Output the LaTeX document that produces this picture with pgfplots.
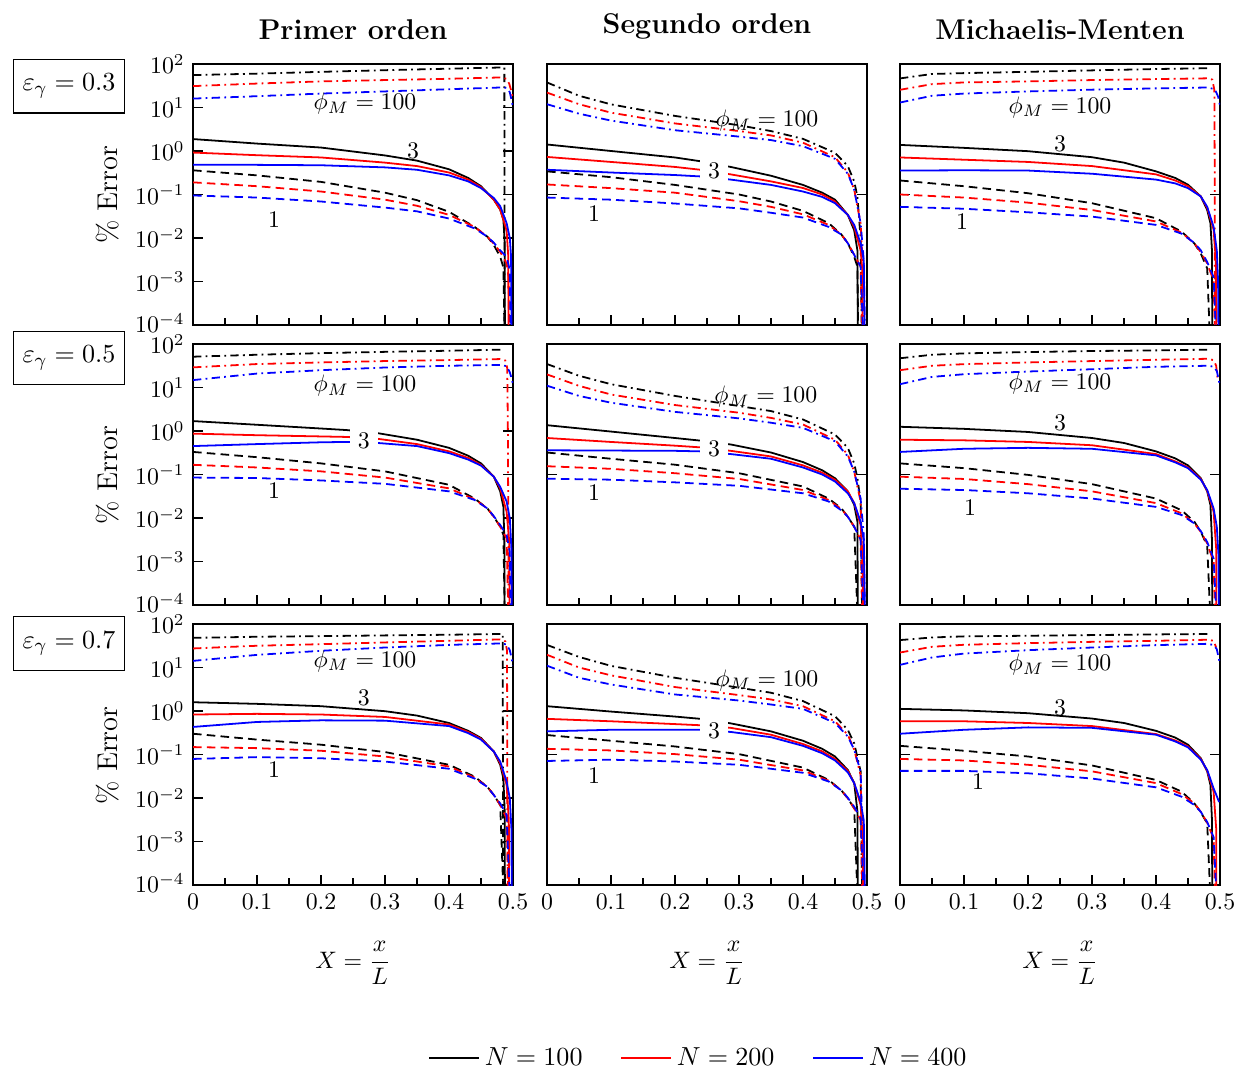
\documentclass[border=0pt]{standalone}
\usepackage{pgfplots}
\pgfplotsset{compat=1.18}
\pgfplotsset{
  /pgfplots/mypanel/.style={
    scale only axis, width=134.4pt, height=109.62pt,
    xmin=0, xmax=0.5, ymin=1e-4, ymax=1e2,
    axis line style={line width=0.8pt},
    tick align=inside, tick style={black, line width=0.5pt},
    major tick length=4pt, minor tick length=3pt,
    xtick={0,0.1,0.2,0.3,0.4,0.5},
    minor xtick={0.05,0.15,0.25,0.35,0.45},
    xtick pos=bottom, yminorticks=false,
    xticklabels={},
    yticklabel style={inner ysep=0.3pt},
    every axis plot/.append style={line width=0.75pt},
  },
  /pgfplots/myylab/.style={ytick={1e-4,1e-3,1e-2,1e-1,1,10,100},
    yticklabels={\raisebox{1.6pt}{$10^{-4}$},$10^{-3}$,$10^{-2}$,$10^{-1}$,$10^{0}$,$10^{1}$,\raisebox{-1.6pt}{$10^{2}$}}},
  /pgfplots/mynoylab/.style={ytick={1e-4,1e-1,1e2}, yticklabels={}},
  /pgfplots/myxlab/.style={xticklabels={0,0.1,0.2,0.3,0.4,0.5}},
}
\tikzset{
  dd/.style={dash pattern=on 3.5pt off 1.8pt on 0.75pt off 1.8pt},
  dsh/.style={dash pattern=on 3.6pt off 2.2pt},
  kDD/.style={black, dd},
  rDD/.style={red, dd},
  bDD/.style={blue, dd},
  kS/.style={black, solid},
  rS/.style={red, solid},
  bS/.style={blue, solid},
  kD/.style={black, dsh},
  rD/.style={red, dsh},
  bD/.style={blue, dsh},
  ebox/.style={draw, line width=0.5pt, minimum width=46.6pt, minimum height=22.5pt, inner sep=2pt, font=\fontsize{11}{13}\selectfont},
}
\begin{document}
\begin{tikzpicture}
% ---------------- Row 1 ----------------
\begin{semilogyaxis}[mypanel, myylab, at={(81.06pt,312.9pt)}, anchor=south west]
\addplot[kDD] coordinates {(0,55.6)(0.1,60)(0.2,66)(0.3,72)(0.4,78)(0.48,83)(0.4865,83)(0.4868,1e-5)};
\addplot[rDD] coordinates {(0,31)(0.1,35.5)(0.2,39.8)(0.3,42.7)(0.4,45.7)(0.48,49)(0.49,45.7)(0.494,35.5)(0.497,25)(0.5,16)};
\addplot[bDD] coordinates {(0,16)(0.1,18.2)(0.2,20.9)(0.3,23.4)(0.4,26.3)(0.48,28.8)(0.49,28.2)(0.495,22.4)(0.498,14.1)(0.5,10)};
\addplot[kS] coordinates {(0,1.88)(0.1,1.48)(0.2,1.2)(0.3,0.79)(0.35,0.6)(0.4,0.38)(0.43,0.24)(0.45,0.155)(0.47,0.076)(0.48,0.045)(0.485,0.026)(0.487,0.008)(0.4875,1e-5)};
\addplot[rS] coordinates {(0,0.92)(0.1,0.8)(0.2,0.71)(0.3,0.54)(0.35,0.45)(0.4,0.32)(0.43,0.22)(0.45,0.148)(0.47,0.076)(0.48,0.045)(0.49,0.015)(0.4925,0.004)(0.4935,1e-5)};
\addplot[bS] coordinates {(0,0.48)(0.1,0.48)(0.2,0.47)(0.3,0.42)(0.35,0.37)(0.4,0.275)(0.43,0.2)(0.45,0.14)(0.47,0.083)(0.48,0.054)(0.49,0.022)(0.495,0.01)(0.497,0.0037)(0.498,1e-5)};
\addplot[kD] coordinates {(0,0.36)(0.1,0.275)(0.2,0.195)(0.3,0.11)(0.35,0.074)(0.4,0.04)(0.44,0.018)(0.46,0.0107)(0.47,0.0069)(0.48,0.0037)(0.485,0.0021)(0.4875,1e-5)};
\addplot[rD] coordinates {(0,0.19)(0.1,0.155)(0.2,0.117)(0.3,0.076)(0.35,0.055)(0.4,0.034)(0.44,0.018)(0.46,0.0107)(0.47,0.0074)(0.48,0.0048)(0.49,0.0026)(0.493,0.00126)(0.4945,1e-5)};
\addplot[bD] coordinates {(0,0.095)(0.1,0.085)(0.2,0.069)(0.3,0.05)(0.35,0.041)(0.4,0.028)(0.44,0.0166)(0.46,0.0107)(0.47,0.0078)(0.48,0.0052)(0.49,0.0037)(0.495,0.0018)(0.497,1e-5)};
\node at (rel axis cs:0.5375,0.8467) {$\phi_M = 100$};
\node at (rel axis cs:0.6875,0.6667) {3};
\node at (rel axis cs:0.253,0.402) {1};
\end{semilogyaxis}

\begin{semilogyaxis}[mypanel, mynoylab, at={(229.74pt,312.9pt)}, anchor=south west]
\addplot[kDD] coordinates {(0,37.6)(0.05,18.6)(0.1,11.8)(0.2,6.4)(0.3,3.9)(0.35,2.87)(0.4,1.9)(0.45,0.91)(0.47,0.45)(0.48,0.2)(0.485,0.089)(0.49,0.01)(0.4925,1e-5)};
\addplot[rDD] coordinates {(0,22)(0.05,11.9)(0.1,7.6)(0.2,4.3)(0.3,2.87)(0.35,2.28)(0.4,1.55)(0.45,0.72)(0.47,0.32)(0.48,0.13)(0.49,0.022)(0.493,0.003)(0.4955,1e-5)};
\addplot[bDD] coordinates {(0,11.9)(0.05,7.2)(0.1,5.0)(0.2,3.0)(0.3,2.14)(0.35,1.78)(0.4,1.29)(0.45,0.66)(0.47,0.3)(0.48,0.13)(0.49,0.022)(0.495,0.003)(0.4975,1e-5)};
\addplot[kS] coordinates {(0,1.41)(0.1,1.0)(0.2,0.71)(0.24,0.58)(0.287,0.43)(0.35,0.27)(0.4,0.166)(0.43,0.11)(0.45,0.076)(0.47,0.034)(0.48,0.015)(0.485,0.0052)(0.486,1e-5)};
\addplot[rS] coordinates {(0,0.73)(0.1,0.56)(0.2,0.43)(0.24,0.37)(0.287,0.29)(0.35,0.2)(0.4,0.141)(0.43,0.1)(0.45,0.069)(0.47,0.034)(0.48,0.018)(0.49,0.0052)(0.4925,0.002)(0.4935,1e-5)};
\addplot[bS] coordinates {(0,0.37)(0.1,0.32)(0.2,0.28)(0.24,0.26)(0.287,0.22)(0.35,0.166)(0.4,0.117)(0.43,0.088)(0.45,0.063)(0.47,0.034)(0.48,0.02)(0.49,0.0076)(0.495,0.003)(0.497,1e-5)};
\addplot[kD] coordinates {(0,0.34)(0.1,0.25)(0.2,0.166)(0.3,0.1)(0.35,0.069)(0.4,0.042)(0.44,0.022)(0.46,0.012)(0.47,0.0076)(0.48,0.0037)(0.485,0.0022)(0.487,1e-5)};
\addplot[rD] coordinates {(0,0.17)(0.1,0.14)(0.2,0.11)(0.3,0.07)(0.35,0.052)(0.4,0.035)(0.44,0.02)(0.46,0.012)(0.47,0.0076)(0.48,0.0041)(0.49,0.0022)(0.4935,1e-5)};
\addplot[bD] coordinates {(0,0.085)(0.1,0.076)(0.2,0.062)(0.3,0.048)(0.35,0.038)(0.4,0.0295)(0.44,0.018)(0.46,0.012)(0.47,0.0076)(0.48,0.0041)(0.49,0.0022)(0.496,1e-5)};
\node at (rel axis cs:0.6875,0.7816) {$\phi_M = 100$};
\node[fill=white] at (rel axis cs:0.522,0.59) {3};
\node at (rel axis cs:0.147,0.425) {1};
\end{semilogyaxis}

\begin{semilogyaxis}[mypanel, mynoylab, at={(378pt,312.9pt)}, anchor=south west]
\addplot[kDD] coordinates {(0,46.6)(0.05,58.9)(0.1,61.7)(0.2,66)(0.3,71.3)(0.4,76.6)(0.483,80)};
\addplot[rDD] coordinates {(0,25.5)(0.05,34.4)(0.1,37.7)(0.2,39.8)(0.3,42.7)(0.4,45)(0.48,46.8)(0.488,43.7)(0.4912,25)(0.4916,1)(0.492,1e-5)};
\addplot[bDD] coordinates {(0,13)(0.05,18.6)(0.1,20.9)(0.2,23.4)(0.3,25.7)(0.4,27.5)(0.48,28.8)(0.492,26.3)(0.497,17.8)(0.5,11.2)};
\addplot[kS] coordinates {(0,1.38)(0.1,1.18)(0.2,0.99)(0.3,0.72)(0.35,0.54)(0.4,0.34)(0.43,0.24)(0.45,0.168)(0.47,0.09)(0.48,0.044)(0.485,0.022)(0.4875,0.005)(0.488,1e-5)};
\addplot[rS] coordinates {(0,0.71)(0.1,0.63)(0.2,0.56)(0.3,0.45)(0.4,0.29)(0.43,0.21)(0.45,0.155)(0.47,0.09)(0.48,0.049)(0.49,0.0155)(0.4935,0.003)(0.4945,1e-5)};
\addplot[bS] coordinates {(0,0.355)(0.1,0.36)(0.2,0.355)(0.3,0.3)(0.4,0.22)(0.43,0.18)(0.45,0.14)(0.47,0.09)(0.48,0.052)(0.49,0.018)(0.495,0.0052)(0.497,0.001)(0.498,1e-5)};
\addplot[kD] coordinates {(0,0.21)(0.1,0.155)(0.2,0.107)(0.3,0.063)(0.4,0.0285)(0.44,0.014)(0.46,0.0075)(0.47,0.0044)(0.48,0.002)(0.486,1e-5)};
\addplot[rD] coordinates {(0,0.1)(0.1,0.085)(0.2,0.065)(0.3,0.044)(0.4,0.024)(0.44,0.0133)(0.46,0.0075)(0.47,0.0047)(0.48,0.0026)(0.49,0.00105)(0.4935,1e-5)};
\addplot[bD] coordinates {(0,0.052)(0.1,0.047)(0.2,0.039)(0.3,0.031)(0.4,0.02)(0.44,0.0126)(0.46,0.0077)(0.47,0.0052)(0.48,0.0028)(0.49,0.00126)(0.496,1e-5)};
\node at (rel axis cs:0.5,0.835) {$\phi_M = 100$};
\node at (rel axis cs:0.5,0.6935) {3};
\node at (rel axis cs:0.194,0.398) {1};
\end{semilogyaxis}

% ---------------- Row 2 ----------------
\begin{semilogyaxis}[mypanel, myylab, at={(81.06pt,195.3pt)}, anchor=south west]
\addplot[kDD] coordinates {(0,51)(0.1,56.6)(0.2,61.7)(0.3,66)(0.4,70)(0.48,74)(0.484,74)};
\addplot[rDD] coordinates {(0,29)(0.1,34.6)(0.2,37.7)(0.3,40.5)(0.4,42.7)(0.48,45)(0.488,41.7)(0.491,28)(0.492,1)(0.4935,1e-5)};
\addplot[bDD] coordinates {(0,14.8)(0.1,20.9)(0.2,25)(0.3,28.8)(0.4,31.6)(0.48,33)(0.49,31)(0.495,22.4)(0.498,15.8)(0.5,11.7)};
\addplot[kS] coordinates {(0,1.69)(0.1,1.39)(0.2,1.14)(0.24,1.05)(0.289,0.89)(0.35,0.63)(0.4,0.41)(0.43,0.27)(0.45,0.18)(0.47,0.089)(0.48,0.041)(0.485,0.018)(0.4865,0.003)(0.487,1e-5)};
\addplot[rS] coordinates {(0,0.87)(0.1,0.8)(0.2,0.75)(0.24,0.73)(0.289,0.66)(0.35,0.5)(0.4,0.34)(0.43,0.24)(0.45,0.166)(0.47,0.089)(0.48,0.048)(0.49,0.014)(0.494,0.003)(0.495,1e-5)};
\addplot[bS] coordinates {(0,0.45)(0.1,0.5)(0.2,0.55)(0.24,0.56)(0.289,0.53)(0.35,0.45)(0.4,0.31)(0.43,0.22)(0.45,0.16)(0.47,0.089)(0.48,0.052)(0.49,0.024)(0.495,0.0098)(0.4975,0.002)(0.4985,1e-5)};
\addplot[kD] coordinates {(0,0.33)(0.1,0.25)(0.2,0.18)(0.3,0.118)(0.4,0.058)(0.44,0.028)(0.46,0.0166)(0.47,0.0107)(0.48,0.0063)(0.485,0.0041)(0.488,1e-5)};
\addplot[rD] coordinates {(0,0.167)(0.1,0.145)(0.2,0.118)(0.3,0.085)(0.4,0.048)(0.44,0.027)(0.46,0.0166)(0.47,0.0107)(0.48,0.0063)(0.49,0.0034)(0.494,1e-5)};
\addplot[bD] coordinates {(0,0.085)(0.1,0.083)(0.2,0.073)(0.3,0.061)(0.4,0.041)(0.44,0.026)(0.46,0.0166)(0.47,0.011)(0.48,0.0069)(0.49,0.0041)(0.495,0.00166)(0.497,1e-5)};
\node at (rel axis cs:0.5375,0.839) {$\phi_M = 100$};
\node[fill=white] at (rel axis cs:0.534,0.628) {3};
\node at (rel axis cs:0.253,0.44) {1};
\end{semilogyaxis}

\begin{semilogyaxis}[mypanel, mynoylab, at={(229.74pt,195.3pt)}, anchor=south west]
\addplot[kDD] coordinates {(0,34.6)(0.05,18.6)(0.1,11.9)(0.2,6.4)(0.3,3.75)(0.35,2.87)(0.4,1.84)(0.45,0.83)(0.47,0.41)(0.48,0.18)(0.485,0.083)(0.49,0.024)(0.493,1e-5)};
\addplot[rDD] coordinates {(0,20)(0.05,10.9)(0.1,6.9)(0.2,3.95)(0.3,2.63)(0.35,2.0)(0.4,1.41)(0.45,0.63)(0.47,0.285)(0.48,0.117)(0.49,0.024)(0.4955,1e-5)};
\addplot[bDD] coordinates {(0,11)(0.05,6.4)(0.1,4.47)(0.2,2.75)(0.3,1.95)(0.35,1.55)(0.4,1.18)(0.45,0.58)(0.47,0.26)(0.48,0.117)(0.49,0.028)(0.495,0.004)(0.4975,1e-5)};
\addplot[kS] coordinates {(0,1.36)(0.1,0.97)(0.2,0.69)(0.24,0.6)(0.287,0.49)(0.35,0.32)(0.4,0.193)(0.43,0.125)(0.45,0.082)(0.47,0.041)(0.48,0.02)(0.485,0.0082)(0.486,1e-5)};
\addplot[rS] coordinates {(0,0.69)(0.1,0.56)(0.2,0.46)(0.24,0.42)(0.287,0.35)(0.35,0.26)(0.4,0.162)(0.43,0.11)(0.45,0.076)(0.47,0.041)(0.48,0.022)(0.49,0.0069)(0.4935,0.001)(0.494,1e-5)};
\addplot[bS] coordinates {(0,0.36)(0.1,0.355)(0.2,0.35)(0.24,0.34)(0.287,0.295)(0.35,0.23)(0.4,0.145)(0.43,0.1)(0.45,0.069)(0.47,0.037)(0.48,0.022)(0.49,0.0082)(0.495,0.003)(0.4975,1e-5)};
\addplot[kD] coordinates {(0,0.32)(0.1,0.23)(0.2,0.168)(0.3,0.107)(0.4,0.053)(0.44,0.028)(0.46,0.0166)(0.47,0.0107)(0.48,0.0063)(0.487,1e-5)};
\addplot[rD] coordinates {(0,0.155)(0.1,0.135)(0.2,0.107)(0.3,0.079)(0.4,0.044)(0.44,0.026)(0.46,0.016)(0.47,0.0107)(0.48,0.0063)(0.49,0.0032)(0.494,1e-5)};
\addplot[bD] coordinates {(0,0.08)(0.1,0.076)(0.2,0.066)(0.3,0.055)(0.4,0.037)(0.44,0.024)(0.46,0.015)(0.47,0.0107)(0.48,0.0063)(0.49,0.0032)(0.497,1e-5)};
\node at (rel axis cs:0.684,0.797) {$\phi_M = 100$};
\node[fill=white] at (rel axis cs:0.522,0.598) {3};
\node at (rel axis cs:0.147,0.429) {1};
\end{semilogyaxis}

\begin{semilogyaxis}[mypanel, mynoylab, at={(378pt,195.3pt)}, anchor=south west]
\addplot[kDD] coordinates {(0,47)(0.05,56.6)(0.1,60.8)(0.2,65.3)(0.3,68.9)(0.4,71.3)(0.48,74)(0.484,74)};
\addplot[rDD] coordinates {(0,25)(0.05,31.6)(0.1,34.4)(0.2,37.7)(0.3,40.5)(0.4,43.4)(0.48,45.7)(0.49,42.7)(0.494,31.6)(0.4965,15)};
\addplot[bDD] coordinates {(0,11.9)(0.05,17.5)(0.1,20.2)(0.2,23.3)(0.3,26.3)(0.4,29.9)(0.48,31.6)(0.49,30.2)(0.495,24)(0.5,10.9)};
\addplot[kS] coordinates {(0,1.25)(0.1,1.12)(0.2,0.95)(0.3,0.69)(0.35,0.53)(0.4,0.34)(0.43,0.235)(0.45,0.162)(0.47,0.082)(0.48,0.041)(0.485,0.02)(0.4875,0.003)(0.488,1e-5)};
\addplot[rS] coordinates {(0,0.63)(0.1,0.61)(0.2,0.56)(0.3,0.47)(0.4,0.295)(0.43,0.2)(0.45,0.146)(0.47,0.079)(0.48,0.042)(0.49,0.014)(0.494,0.002)(0.4945,1e-5)};
\addplot[bS] coordinates {(0,0.33)(0.1,0.39)(0.2,0.41)(0.3,0.39)(0.4,0.275)(0.43,0.19)(0.45,0.14)(0.47,0.076)(0.48,0.044)(0.49,0.0166)(0.495,0.0063)(0.4975,0.0015)(0.4985,1e-5)};
\addplot[kD] coordinates {(0,0.18)(0.1,0.14)(0.2,0.098)(0.3,0.06)(0.4,0.028)(0.44,0.015)(0.46,0.0082)(0.47,0.0048)(0.48,0.0023)(0.487,1e-5)};
\addplot[rD] coordinates {(0,0.089)(0.1,0.079)(0.2,0.06)(0.3,0.041)(0.4,0.022)(0.44,0.0128)(0.46,0.0075)(0.47,0.0048)(0.48,0.0026)(0.49,0.00098)(0.4935,1e-5)};
\addplot[bD] coordinates {(0,0.047)(0.1,0.044)(0.2,0.037)(0.3,0.028)(0.4,0.018)(0.44,0.0117)(0.46,0.0075)(0.47,0.005)(0.48,0.0028)(0.49,0.00117)(0.497,1e-5)};
\node at (rel axis cs:0.5,0.85) {$\phi_M = 100$};
\node at (rel axis cs:0.5,0.697) {3};
\node at (rel axis cs:0.219,0.375) {1};
\end{semilogyaxis}

% ---------------- Row 3 ----------------
\begin{semilogyaxis}[mypanel, myylab, myxlab, at={(81.06pt,77.7pt)}, anchor=south west]
\addplot[kDD] coordinates {(0,48)(0.1,50.9)(0.2,52.6)(0.3,54.7)(0.4,56.6)(0.48,58.9)(0.484,58.9)(0.4845,1e-5)};
\addplot[rDD] coordinates {(0,27.4)(0.1,31.6)(0.2,34.4)(0.3,37.7)(0.4,41.1)(0.48,44.2)(0.488,40)(0.4905,25)(0.491,1)(0.4915,1e-5)};
\addplot[bDD] coordinates {(0,14.2)(0.1,19.5)(0.2,24.2)(0.3,28.8)(0.4,33.1)(0.48,35.7)(0.49,33.9)(0.495,25)(0.498,15.8)(0.5,10.9)};
\addplot[kS] coordinates {(0,1.59)(0.1,1.46)(0.2,1.29)(0.3,0.99)(0.35,0.785)(0.4,0.53)(0.43,0.35)(0.45,0.24)(0.47,0.117)(0.48,0.058)(0.485,0.028)(0.487,0.005)(0.4875,1e-5)};
\addplot[rS] coordinates {(0,0.83)(0.1,0.86)(0.2,0.83)(0.3,0.73)(0.4,0.49)(0.43,0.33)(0.45,0.23)(0.47,0.117)(0.48,0.063)(0.49,0.02)(0.4935,0.003)(0.494,1e-5)};
\addplot[bS] coordinates {(0,0.43)(0.1,0.56)(0.2,0.61)(0.3,0.6)(0.4,0.45)(0.43,0.31)(0.45,0.22)(0.47,0.117)(0.48,0.069)(0.49,0.024)(0.495,0.0098)(0.4975,0.002)(0.4985,1e-5)};
\addplot[kD] coordinates {(0,0.3)(0.1,0.22)(0.2,0.168)(0.3,0.114)(0.4,0.058)(0.44,0.031)(0.46,0.018)(0.47,0.0117)(0.48,0.0069)(0.487,1e-5)};
\addplot[rD] coordinates {(0,0.148)(0.1,0.14)(0.2,0.122)(0.3,0.09)(0.4,0.053)(0.44,0.0295)(0.46,0.018)(0.47,0.0117)(0.48,0.0069)(0.49,0.0034)(0.494,1e-5)};
\addplot[bD] coordinates {(0,0.079)(0.1,0.087)(0.2,0.082)(0.3,0.069)(0.4,0.047)(0.44,0.028)(0.46,0.018)(0.47,0.0117)(0.48,0.0075)(0.49,0.0041)(0.497,1e-5)};
\node at (rel axis cs:0.5375,0.858) {$\phi_M = 100$};
\node at (rel axis cs:0.534,0.7165) {3};
\node at (rel axis cs:0.253,0.444) {1};
\end{semilogyaxis}

\begin{semilogyaxis}[mypanel, mynoylab, myxlab, at={(229.74pt,77.7pt)}, anchor=south west]
\addplot[kDD] coordinates {(0,33)(0.05,17.5)(0.1,10.9)(0.2,5.8)(0.3,3.43)(0.35,2.63)(0.4,1.69)(0.45,0.76)(0.47,0.37)(0.48,0.18)(0.49,0.041)(0.493,1e-5)};
\addplot[rDD] coordinates {(0,19.6)(0.05,10)(0.1,6.6)(0.2,3.55)(0.3,2.32)(0.35,1.84)(0.4,1.29)(0.45,0.58)(0.47,0.285)(0.48,0.129)(0.49,0.034)(0.4955,1e-5)};
\addplot[bDD] coordinates {(0,11)(0.05,5.8)(0.1,4.07)(0.2,2.4)(0.3,1.74)(0.35,1.41)(0.4,1.12)(0.45,0.53)(0.47,0.26)(0.48,0.129)(0.49,0.041)(0.4975,1e-5)};
\addplot[kS] coordinates {(0,1.29)(0.1,0.97)(0.2,0.745)(0.24,0.66)(0.287,0.52)(0.35,0.34)(0.4,0.207)(0.43,0.135)(0.45,0.09)(0.47,0.044)(0.48,0.022)(0.485,0.005)(0.486,1e-5)};
\addplot[rS] coordinates {(0,0.66)(0.1,0.58)(0.2,0.5)(0.24,0.47)(0.287,0.41)(0.35,0.285)(0.4,0.174)(0.43,0.118)(0.45,0.079)(0.47,0.042)(0.48,0.022)(0.49,0.0069)(0.4935,0.001)(0.494,1e-5)};
\addplot[bS] coordinates {(0,0.34)(0.1,0.37)(0.2,0.37)(0.24,0.37)(0.287,0.33)(0.35,0.25)(0.4,0.158)(0.43,0.107)(0.45,0.073)(0.47,0.039)(0.48,0.022)(0.49,0.0082)(0.495,0.003)(0.4975,1e-5)};
\addplot[kD] coordinates {(0,0.28)(0.1,0.207)(0.2,0.153)(0.3,0.102)(0.4,0.05)(0.44,0.026)(0.46,0.015)(0.47,0.0098)(0.48,0.0058)(0.487,1e-5)};
\addplot[rD] coordinates {(0,0.135)(0.1,0.124)(0.2,0.102)(0.3,0.076)(0.4,0.043)(0.44,0.025)(0.46,0.015)(0.47,0.0098)(0.48,0.0058)(0.49,0.0031)(0.494,1e-5)};
\addplot[bD] coordinates {(0,0.071)(0.1,0.076)(0.2,0.069)(0.3,0.058)(0.4,0.038)(0.44,0.024)(0.46,0.015)(0.47,0.0101)(0.48,0.0063)(0.49,0.0034)(0.497,1e-5)};
\node at (rel axis cs:0.6875,0.785) {$\phi_M = 100$};
\node[fill=white] at (rel axis cs:0.522,0.59) {3};
\node at (rel axis cs:0.147,0.421) {1};
\end{semilogyaxis}

\begin{semilogyaxis}[mypanel, mynoylab, myxlab, at={(378pt,77.7pt)}, anchor=south west]
\addplot[kDD] coordinates {(0,42.7)(0.05,49)(0.1,51.9)(0.2,53.7)(0.3,55.6)(0.4,57.6)(0.48,58.9)(0.484,58.9)};
\addplot[rDD] coordinates {(0,22.1)(0.05,29.9)(0.1,33.3)(0.2,36.3)(0.3,38.9)(0.4,41.1)(0.48,43.4)(0.49,41.2)(0.494,28.8)};
\addplot[bDD] coordinates {(0,11.5)(0.05,17)(0.1,20.9)(0.2,25)(0.3,28.8)(0.4,32.7)(0.48,35)(0.49,33)(0.495,26.3)(0.5,11.9)};
\addplot[kS] coordinates {(0,1.12)(0.1,1.03)(0.2,0.89)(0.3,0.67)(0.35,0.53)(0.4,0.35)(0.43,0.245)(0.45,0.168)(0.47,0.082)(0.48,0.041)(0.485,0.02)(0.4875,0.003)(0.488,1e-5)};
\addplot[rS] coordinates {(0,0.58)(0.1,0.58)(0.2,0.53)(0.3,0.45)(0.4,0.295)(0.43,0.21)(0.45,0.153)(0.47,0.079)(0.48,0.042)(0.49,0.014)(0.494,0.002)(0.4945,1e-5)};
\addplot[bS] coordinates {(0,0.3)(0.1,0.37)(0.2,0.42)(0.3,0.41)(0.4,0.285)(0.43,0.2)(0.45,0.146)(0.47,0.076)(0.48,0.044)(0.49,0.0166)(0.495,0.011)(0.4985,0.0081)};
\addplot[kD] coordinates {(0,0.158)(0.1,0.122)(0.2,0.09)(0.3,0.056)(0.4,0.026)(0.44,0.014)(0.46,0.0075)(0.47,0.0047)(0.48,0.0026)(0.487,1e-5)};
\addplot[rD] coordinates {(0,0.079)(0.1,0.073)(0.2,0.058)(0.3,0.041)(0.4,0.022)(0.44,0.0123)(0.46,0.0075)(0.47,0.0048)(0.48,0.0027)(0.49,0.00117)(0.4935,1e-5)};
\addplot[bD] coordinates {(0,0.042)(0.1,0.042)(0.2,0.037)(0.3,0.028)(0.4,0.0176)(0.44,0.0107)(0.46,0.0069)(0.47,0.0048)(0.48,0.0028)(0.49,0.00126)(0.497,1e-5)};
\node at (rel axis cs:0.5,0.843) {$\phi_M = 100$};
\node at (rel axis cs:0.5,0.678) {3};
\node at (rel axis cs:0.244,0.395) {1};
\end{semilogyaxis}

% ---------------- Legend ----------------
\begin{axis}[at={(294pt,5.04pt)}, anchor=center, hide axis, scale only axis,
  width=10pt, height=10pt, xmin=0, xmax=1, ymin=0, ymax=1,
  legend style={at={(0.5,0.5)}, anchor=center, draw=none, fill=none,
    font=\fontsize{11}{13}\selectfont,
    legend columns=3, /tikz/every even column/.append style={column sep=14pt}},
  legend image code/.code={\draw[#1] (0pt,0pt) -- (21pt,0pt);}]
\addlegendimage{black, line width=0.6pt}\addlegendentry{$N = 100$}
\addlegendimage{red, line width=0.6pt}\addlegendentry{$N = 200$}
\addlegendimage{blue, line width=0.6pt}\addlegendentry{$N = 400$}
\end{axis}

% ---------------- Titles and labels ----------------
\node[anchor=south, inner sep=0pt, font=\large\bfseries] at (148.26pt,432.6pt) {Primer orden};
\node[anchor=south, inner sep=0pt, font=\large\bfseries] at (296.94pt,432.6pt) {Segundo orden};
\node[anchor=south, inner sep=0pt, font=\large\bfseries] at (445.2pt,432.6pt) {Michaelis-Menten};

\node[ebox] at (28.98pt,413.2pt) {$\varepsilon_\gamma = 0.3$};
\node[ebox] at (28.98pt,299.04pt) {$\varepsilon_\gamma = 0.5$};
\node[ebox] at (28.98pt,179.13pt) {$\varepsilon_\gamma = 0.7$};

\node[rotate=90, font=\large] at (45.36pt,367.7pt) {\% Error};
\node[rotate=90, font=\large] at (45.36pt,249.9pt) {\% Error};
\node[rotate=90, font=\large] at (45.36pt,132.1pt) {\% Error};

\node at (148.26pt,44.94pt) {$\displaystyle X = \frac{x}{L}$};
\node at (296.94pt,44.94pt) {$\displaystyle X = \frac{x}{L}$};
\node at (445.2pt,44.94pt) {$\displaystyle X = \frac{x}{L}$};

\pgfresetboundingbox
\path[use as bounding box] (0,0) rectangle (519.12pt,449.4pt);
\end{tikzpicture}
\end{document}
